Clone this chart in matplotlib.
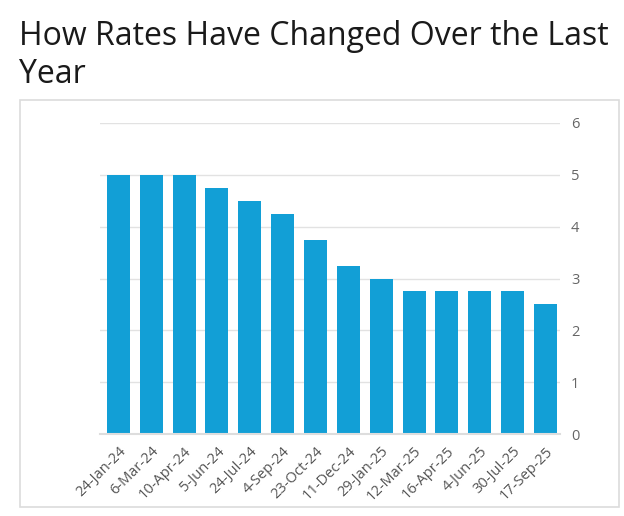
import numpy as np
import matplotlib
matplotlib.use("Agg")
import matplotlib.pyplot as plt
from matplotlib.patches import Rectangle

# data
dates = ["24-Jan-24", "6-Mar-24", "10-Apr-24", "5-Jun-24", "24-Jul-24", "4-Sep-24",
         "23-Oct-24", "11-Dec-24", "29-Jan-25", "12-Mar-25", "16-Apr-25", "4-Jun-25",
         "30-Jul-25", "17-Sep-25"]
rates = [5.0, 5.0, 5.0, 4.75, 4.5, 4.25, 3.75, 3.25, 3.0, 2.75, 2.75, 2.75, 2.75, 2.5]
yticks = [0, 1, 2, 3, 4, 5, 6]

plt.rcParams['font.family'] = ['Open Sans', 'DejaVu Sans']

W, H = 624, 516
fig = plt.figure(figsize=(W / 100, H / 100), dpi=100)
fig.patch.set_facecolor("white")

# frame round the chart
fig.patches.append(Rectangle((20 / W, 1 - 507 / H), 599 / W, 407 / H,
                             transform=fig.transFigure, fill=False,
                             edgecolor="#dcdcdc", linewidth=1.2))

fig.text(19 / W, 1 - 45 / H, "How Rates Have Changed Over the Last",
         fontsize=23, color="#1a1a1a", va="baseline", ha="left")
fig.text(19 / W, 1 - 83 / H, "Year",
         fontsize=23, color="#1a1a1a", va="baseline", ha="left")

ax = fig.add_axes([100 / W, 1 - 434 / H, 460 / W, 311 / H])
x = np.arange(len(dates))
ax.bar(x, rates, width=0.7, color="#129fd6", zorder=3)

ax.set_xlim(-0.56, len(dates) - 0.56)
ax.set_ylim(0, 6)
ax.set_yticks(yticks)
ax.yaxis.tick_right()
ax.grid(axis="y", color="#e2e2e2", linewidth=1, zorder=0)
ax.tick_params(axis="y", length=0, pad=8, labelsize=10.5, labelcolor="#666666")
ax.set_xticks(x)
ax.set_xticklabels(dates, rotation=45, ha="right", rotation_mode="anchor")
ax.tick_params(axis="x", length=0, pad=7, labelsize=10.5, labelcolor="#555555")

for s in ["top", "left", "right"]:
    ax.spines[s].set_visible(False)
ax.spines["bottom"].set_color("#dddddd")
ax.spines["bottom"].set_linewidth(1.5)
ax.spines["bottom"].set_zorder(4)

fig.savefig("out.png", dpi=100)
